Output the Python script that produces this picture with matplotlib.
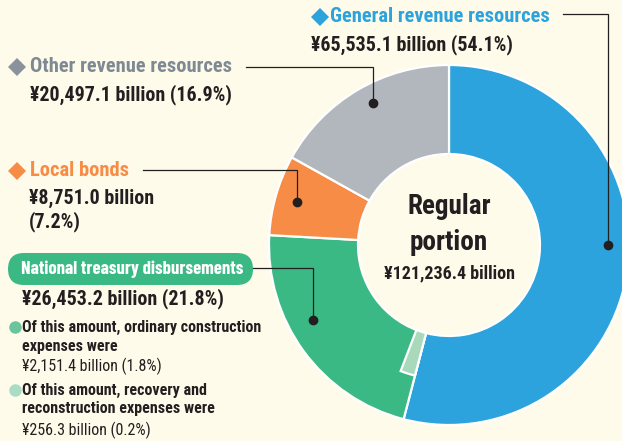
# -*- coding: utf-8 -*-
"""
Regular portion of revenue - donut chart
"""

import matplotlib
matplotlib.use("Agg")
import matplotlib.pyplot as plt
from matplotlib.patches import FancyBboxPatch, Polygon

# data (billion yen)
categories = ["General revenue resources", "National treasury disbursements",
              "Local bonds", "Other revenue resources"]
amounts = [65535.1, 26453.2, 8751.0, 20497.1]
shares = [54.1, 21.8, 7.2, 16.9]
total = 121236.4

construction_amount = 2151.4
construction_share = 1.8
recovery_amount = 256.3
recovery_share = 0.2

blue = "#2ca3dc"
green = "#3bb985"
orange = "#f78c46"
grey = "#b1b7bd"
light_green = "#a8d9ba"
bg = "#fffbea"
ink = "#231f20"

plt.rcParams["font.family"] = ["Roboto Condensed", "DejaVu Sans"]

W, H = 622, 441
fig = plt.figure(figsize=(W / 100, H / 100), dpi=100, facecolor=bg)
ax = fig.add_axes([0, 0, 1, 1])
ax.set_facecolor(bg)


def Y(y):
    # picture rows run downwards
    return H - y


cx, cy = 449, Y(245)
r_out, r_in = 180, 91

# main ring, clockwise from 12 o'clock
ax.pie(amounts, radius=r_out, center=(cx, cy), startangle=90, counterclock=False,
       colors=[blue, green, orange, grey],
       wedgeprops=dict(width=r_out - r_in, edgecolor="white", linewidth=1.6))

# ordinary construction expenses, drawn inside the green part
sub, _ = ax.pie([amounts[0], construction_amount, total - amounts[0] - construction_amount],
                radius=135, center=(cx, cy), startangle=90, counterclock=False,
                colors=["none", light_green, "none"],
                wedgeprops=dict(width=135 - r_in, edgecolor="white", linewidth=1.6))
sub[0].set_visible(False)
sub[2].set_visible(False)

ax.set_xlim(0, W)
ax.set_ylim(0, H)
ax.set_aspect("equal")
ax.axis("off")

# centre text
ax.text(cx, Y(206), "Regular", ha="center", va="center", fontsize=19.5,
        fontweight="bold", color=ink)
ax.text(cx, Y(242), "portion", ha="center", va="center", fontsize=19.5,
        fontweight="bold", color=ink)
ax.text(cx, Y(273), f"¥{total:,.1f} billion", ha="center", va="center",
        fontsize=13, fontweight="bold", color=ink)


def diamond(x, y, color, s=9):
    ax.add_patch(Polygon([(x - s, Y(y)), (x, Y(y) + s), (x + s, Y(y)), (x, Y(y) - s)],
                         closed=True, color=color, lw=0))


def leader(pts, dot):
    ax.plot([p[0] for p in pts], [Y(p[1]) for p in pts], color=ink, lw=0.9,
            solid_joinstyle="miter")
    ax.plot(dot[0], Y(dot[1]), "o", color=ink, ms=6)


head = dict(fontsize=14.8, fontweight="bold", va="center", ha="left")
val = dict(fontsize=14.4, fontweight="bold", va="center", ha="left", color=ink)

# General revenue resources
diamond(320, 17, blue)
ax.text(330, Y(17), categories[0], color=blue, **head)
ax.text(311, Y(45), f"¥{amounts[0]:,.1f} billion ({shares[0]}%)", **val)
leader([(563, 14), (608, 14), (608, 245)], (608, 245))

# Other revenue resources
diamond(17, 67, "#8a939b")
ax.text(30, Y(67), categories[3], color="#7e8a93", **head)
ax.text(30, Y(95), f"¥{amounts[3]:,.1f} billion ({shares[3]}%)", **val)
leader([(246, 67), (373, 67), (373, 103)], (373, 103))

# Local bonds
diamond(17, 171, orange)
ax.text(30, Y(171), categories[2], color=orange, **head)
ax.text(29, Y(198), f"¥{amounts[2]:,.1f} billion", **val)
ax.text(29, Y(222), f"({shares[2]}%)", **val)
leader([(143, 170), (297, 170), (297, 202)], (297, 202))

# National treasury disbursements
ax.add_patch(FancyBboxPatch((8, Y(285)), 245, 32,
                            boxstyle="round,pad=0,rounding_size=16",
                            fc=green, ec="none"))
ax.text(21, Y(269), categories[1], color="white", fontsize=13.4, fontweight="bold",
        va="center", ha="left", family=["Barlow Condensed", "Roboto Condensed"])
ax.text(22, Y(299), f"¥{amounts[1]:,.1f} billion ({shares[1]}%)", **val)
leader([(253, 268), (313, 268), (313, 320)], (313, 320))

note = dict(fontsize=11.5, va="center", ha="left", color=ink)
ax.plot(15, Y(327), "o", color="#6cc49c", ms=8)
ax.text(22, Y(327), "Of this amount, ordinary construction", fontweight="bold", **note)
ax.text(22, Y(346), "expenses were", fontweight="bold", **note)
ax.text(22, Y(366), f"¥{construction_amount:,.1f} billion ({construction_share}%)", **note)

ax.plot(15, Y(390), "o", color="#a8dcc4", ms=8)
ax.text(22, Y(390), "Of this amount, recovery and", fontweight="bold", **note)
ax.text(22, Y(409), "reconstruction expenses were", fontweight="bold", **note)
ax.text(22, Y(430), f"¥{recovery_amount:,.1f} billion ({recovery_share}%)", **note)

fig.savefig("out.png", dpi=100, facecolor=bg)
